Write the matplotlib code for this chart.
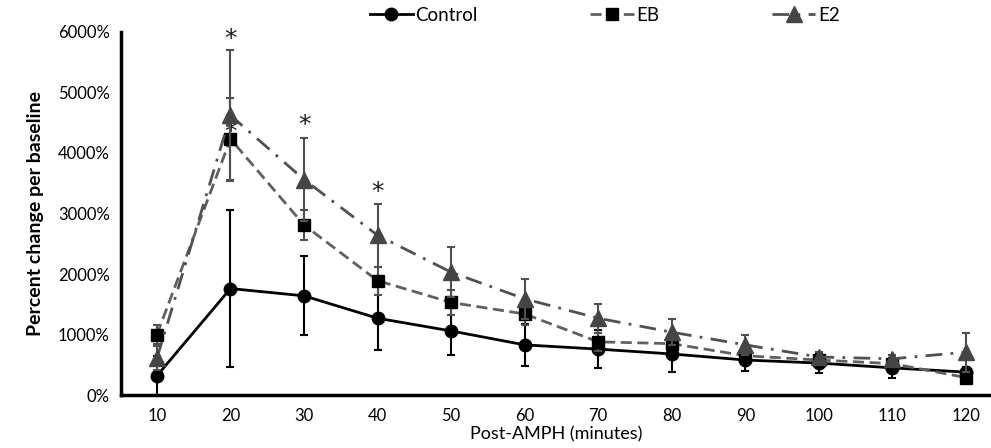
import matplotlib
matplotlib.use('Agg')
import matplotlib.pyplot as plt
from matplotlib.lines import Line2D
from matplotlib.ticker import FuncFormatter

plt.rcParams['font.family'] = ['Lato', 'DejaVu Sans']

minutes = [10, 20, 30, 40, 50, 60, 70, 80, 90, 100, 110, 120]

control = [320, 1760, 1640, 1270, 1060, 830, 760, 680, 580, 530, 450, 380]
control_err = [330, 1300, 650, 530, 400, 350, 320, 300, 180, 170, 170, 80]

eb = [1000, 4230, 2810, 1890, 1530, 1340, 880, 850, 650, 580, 520, 290]
eb_err = [150, 680, 250, 230, 200, 180, 150, 100, 80, 60, 60, 50]

e2 = [610, 4620, 3560, 2640, 2030, 1590, 1270, 1040, 830, 630, 600, 710]
e2_err = [200, 1080, 680, 520, 410, 330, 240, 220, 170, 80, 60, 320]

# significance markers (x, y)
star_x = [20, 20, 30, 40]
star_y = [5880, 4350, 4460, 3360]

fig = plt.figure(figsize=(9.91, 4.48), dpi=100)
ax = fig.add_axes([0.122, 0.118, 0.878, 0.811])

ctrl_style = dict(color="black", linewidth=2, marker="o", markersize=9)
eb_style = dict(color="#606060", linewidth=2, linestyle=(0, (4, 2)), marker="s",
                markersize=9, markerfacecolor="black", markeredgecolor="black")
e2_style = dict(color="#505050", linewidth=2, linestyle=(0, (6, 3, 1, 3)), marker="^",
                markersize=11, markerfacecolor="#454545", markeredgecolor="#454545")

ax.errorbar(minutes, control, yerr=control_err, ecolor="black", capsize=3,
            elinewidth=1.5, capthick=1.5, zorder=3, **ctrl_style)
ax.errorbar(minutes, eb, yerr=eb_err, ecolor="#505050", capsize=3,
            elinewidth=1.5, capthick=1.5, zorder=4, **eb_style)
ax.errorbar(minutes, e2, yerr=e2_err, ecolor="#505050", capsize=3,
            elinewidth=1.5, capthick=1.5, zorder=5, **e2_style)

for sx, sy in zip(star_x, star_y):
    ax.text(sx, sy, "*", ha="center", va="center", fontsize=18, color="#1a1a1a",
            family="DejaVu Sans")

ax.set_xlim(5.1, 123.4)
ax.set_ylim(0, 6000)
ax.set_xticks(minutes)
ax.set_yticks(range(0, 6001, 1000))
ax.yaxis.set_major_formatter(FuncFormatter(lambda v, p: f"{int(v)}%"))
ax.tick_params(length=0, labelsize=12)
ax.tick_params(axis="x", pad=9)
ax.tick_params(axis="y", pad=8)
for side in ["top", "right"]:
    ax.spines[side].set_visible(False)
for side in ["left", "bottom"]:
    ax.spines[side].set_linewidth(2.5)

ax.set_xlabel("Post-AMPH (minutes)", fontsize=13, labelpad=2)
ax.set_ylabel("Percent change per baseline", fontsize=14, fontweight="bold", labelpad=10)

handles = [Line2D([], [], **ctrl_style), Line2D([], [], **eb_style), Line2D([], [], **e2_style)]
ax.legend(handles, ["Control", "EB", "E2"], loc="lower center", bbox_to_anchor=(0.556, 0.975),
          ncol=3, frameon=False, fontsize=13.5, columnspacing=6, handlelength=2.3,
          handletextpad=0.15)

plt.savefig("out.png", dpi=100)
